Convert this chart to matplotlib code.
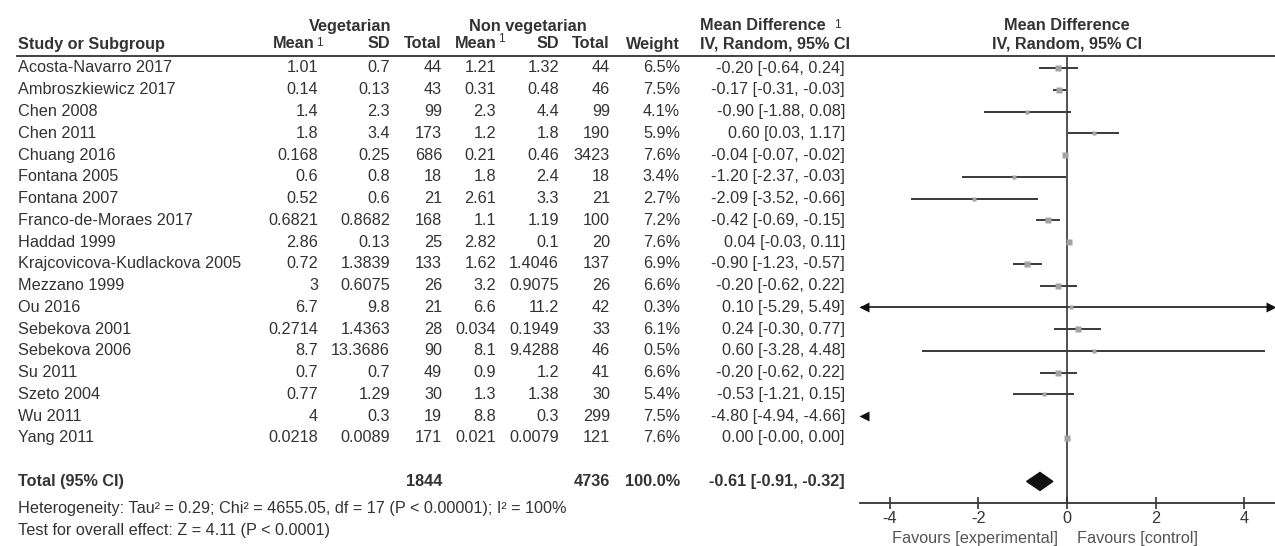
import matplotlib
matplotlib.use("Agg")
import matplotlib.pyplot as plt
from matplotlib.patches import Polygon

plt.rcParams['font.family'] = ['Liberation Sans', 'DejaVu Sans']

studies = ["Acosta-Navarro 2017", "Ambroszkiewicz 2017", "Chen 2008", "Chen 2011",
           "Chuang 2016", "Fontana 2005", "Fontana 2007", "Franco-de-Moraes 2017",
           "Haddad 1999", "Krajcovicova-Kudlackova 2005", "Mezzano 1999", "Ou 2016",
           "Sebekova 2001", "Sebekova 2006", "Su 2011", "Szeto 2004", "Wu 2011", "Yang 2011"]
veg_mean = ["1.01", "0.14", "1.4", "1.8", "0.168", "0.6", "0.52", "0.6821", "2.86",
            "0.72", "3", "6.7", "0.2714", "8.7", "0.7", "0.77", "4", "0.0218"]
veg_sd = ["0.7", "0.13", "2.3", "3.4", "0.25", "0.8", "0.6", "0.8682", "0.13",
          "1.3839", "0.6075", "9.8", "1.4363", "13.3686", "0.7", "1.29", "0.3", "0.0089"]
veg_n = [44, 43, 99, 173, 686, 18, 21, 168, 25, 133, 26, 21, 28, 90, 49, 30, 19, 171]
non_mean = ["1.21", "0.31", "2.3", "1.2", "0.21", "1.8", "2.61", "1.1", "2.82",
            "1.62", "3.2", "6.6", "0.034", "8.1", "0.9", "1.3", "8.8", "0.021"]
non_sd = ["1.32", "0.48", "4.4", "1.8", "0.46", "2.4", "3.3", "1.19", "0.1",
          "1.4046", "0.9075", "11.2", "0.1949", "9.4288", "1.2", "1.38", "0.3", "0.0079"]
non_n = [44, 46, 99, 190, 3423, 18, 21, 100, 20, 137, 26, 42, 33, 46, 41, 30, 299, 121]
weight = [6.5, 7.5, 4.1, 5.9, 7.6, 3.4, 2.7, 7.2, 7.6, 6.9, 6.6, 0.3, 6.1, 0.5, 6.6, 5.4, 7.5, 7.6]
md = [-0.20, -0.17, -0.90, 0.60, -0.04, -1.20, -2.09, -0.42, 0.04, -0.90, -0.20, 0.10,
      0.24, 0.60, -0.20, -0.53, -4.80, 0.00]
ci_lo = [-0.64, -0.31, -1.88, 0.03, -0.07, -2.37, -3.52, -0.69, -0.03, -1.23, -0.62, -5.29,
         -0.30, -3.28, -0.62, -1.21, -4.94, -0.00]
ci_hi = [0.24, -0.03, 0.08, 1.17, -0.02, -0.03, -0.66, -0.15, 0.11, -0.57, 0.22, 5.49,
         0.77, 4.48, 0.22, 0.15, -4.66, 0.00]

total_veg = 1844
total_non = 4736
total_md, total_lo, total_hi = -0.61, -0.91, -0.32
heterogeneity = "Heterogeneity: Tau² = 0.29; Chi² = 4655.05, df = 17 (P < 0.00001); I² = 100%"
overall = "Test for overall effect: Z = 4.11 (P < 0.0001)"
xticks = [-4, -2, 0, 2, 4]

TXT = "#333333"
FS = 11.7
W, H = 1275, 546
row_y0, row_h = 68, 21.76

fig = plt.figure(figsize=(W / 100, H / 100), dpi=100)

# table part, laid out in pixel units
tab = fig.add_axes([0, 0, 1, 1])
tab.set_xlim(0, W)
tab.set_ylim(H, 0)
tab.axis("off")

def t(x, y, s, ha="left", bold=False, size=FS, va="center"):
    tab.text(x, y, s, ha=ha, va=va, fontsize=size, color=TXT,
             fontweight="bold" if bold else "normal")

# headers
t(350, 26, "Vegetarian", ha="center", bold=True)
t(528, 26, "Non vegetarian", ha="center", bold=True)
t(700, 26, "Mean Difference", bold=True)
t(834, 19, "1", size=8.5, va="top")
t(1067, 26, "Mean Difference", ha="center", bold=True)
t(18, 44, "Study or Subgroup", bold=True)
t(315, 44, "Mean", ha="right", bold=True)
t(316, 37, "1", size=8.5, va="top")
t(390, 44, "SD", ha="right", bold=True)
t(442, 44, "Total", ha="right", bold=True)
t(497, 44, "Mean", ha="right", bold=True)
t(498, 33, "1", size=8.5, va="top")
t(559, 44, "SD", ha="right", bold=True)
t(610, 44, "Total", ha="right", bold=True)
t(680, 44, "Weight", ha="right", bold=True)
t(700, 44, "IV, Random, 95% CI", bold=True)
t(1067, 44, "IV, Random, 95% CI", ha="center", bold=True)
tab.plot([17, W], [56, 56], color=TXT, lw=1.3)

for i, name in enumerate(studies):
    y = row_y0 + i * row_h
    t(18, y, name)
    t(318, y, veg_mean[i], ha="right")
    t(390, y, veg_sd[i], ha="right")
    t(442, y, str(veg_n[i]), ha="right")
    t(496, y, non_mean[i], ha="right")
    t(559, y, non_sd[i], ha="right")
    t(610, y, str(non_n[i]), ha="right")
    t(680, y, f"{weight[i]:.1f}%", ha="right")
    t(845, y, f"{md[i]:.2f} [{ci_lo[i]:.2f}, {ci_hi[i]:.2f}]", ha="right")

ty = row_y0 + 19 * row_h
t(18, ty, "Total (95% CI)", bold=True)
t(442, ty, str(total_veg), ha="right", bold=True)
t(610, ty, str(total_non), ha="right", bold=True)
t(680, ty, f"{sum(weight):.1f}%", ha="right", bold=True)
t(845, ty, f"{total_md:.2f} [{total_lo:.2f}, {total_hi:.2f}]", ha="right", bold=True)
t(18, 508, heterogeneity)
t(18, 530, overall)

# forest plot
x0_px, x_scale = 1067, 44.3
ax_l, ax_r, ax_t, ax_b = 860, W, 57, 503
ax = fig.add_axes([ax_l / W, 1 - ax_b / H, (ax_r - ax_l) / W, (ax_b - ax_t) / H])
xmin, xmax = (ax_l - x0_px) / x_scale, (ax_r - x0_px) / x_scale
ax.set_xlim(xmin, xmax)
ax.set_ylim((ax_b - row_y0) / row_h, (ax_t - row_y0) / row_h)
ax.patch.set_alpha(0)
for s in ["top", "left", "right"]:
    ax.spines[s].set_visible(False)
ax.spines["bottom"].set_color(TXT)
ax.spines["bottom"].set_linewidth(1.3)
ax.set_yticks([])
ax.set_xticks(xticks)
ax.set_xticklabels([str(v) for v in xticks])
ax.tick_params(axis="x", direction="inout", length=8, width=1.2, color=TXT,
               labelsize=FS, labelcolor=TXT, pad=2)
ax.axvline(0, color=TXT, lw=1.2, zorder=1)

LINE = "#3a3a3a"
half_arrow = 4 / x_scale
for i in range(len(studies)):
    lo, hi = max(ci_lo[i], xmin + 0.02), min(ci_hi[i], xmax - 0.06)
    if lo < hi:
        ax.plot([lo, hi], [i, i], color=LINE, lw=1.4, zorder=2, solid_capstyle="butt")
    if ci_lo[i] < xmin:
        ax.plot(xmin + half_arrow, i, marker="<", ms=6.5, color="#111111", mec="none",
                clip_on=False, zorder=3)
    if ci_hi[i] > xmax:
        ax.plot(xmax - half_arrow, i, marker=">", ms=6.5, color="#111111", mec="none",
                clip_on=False, zorder=3)
    if xmin <= md[i] <= xmax:
        side_px = 3.2 + 0.3 * weight[i]
        ax.plot(md[i], i, marker="s", ms=side_px * 0.72, color="#a3a3a3",
                mec="none", zorder=4)

dh = 9 / row_h
ax.add_patch(Polygon([(total_lo, 19), (total_md, 19 - dh), (total_hi, 19), (total_md, 19 + dh)],
                     closed=True, facecolor="#111111", edgecolor="#111111", zorder=4))

ax.text(-0.2, -0.08, "Favours [experimental]", transform=ax.get_xaxis_transform(),
        ha="right", va="center", fontsize=FS, color="#555555")
ax.text(0.22, -0.08, "Favours [control]", transform=ax.get_xaxis_transform(),
        ha="left", va="center", fontsize=FS, color="#555555")

fig.savefig("out.png", dpi=100)
